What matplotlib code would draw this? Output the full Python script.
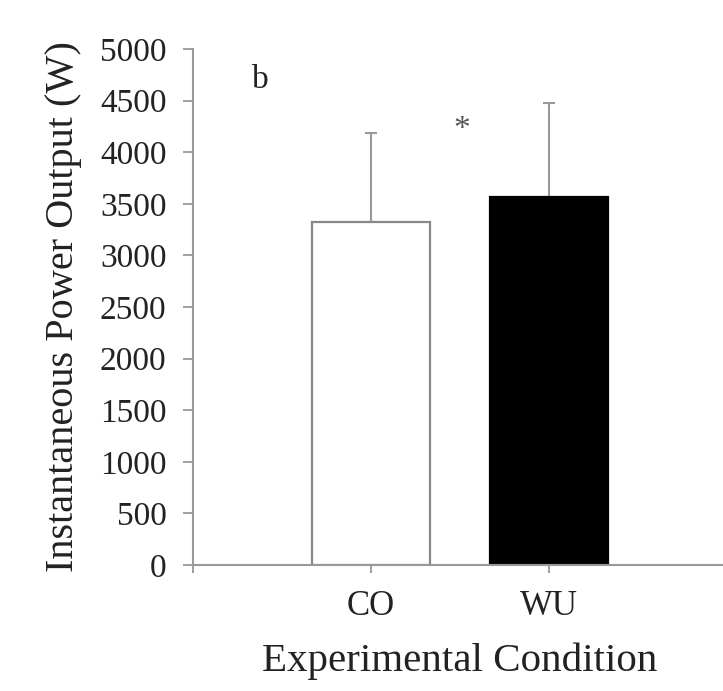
import matplotlib
matplotlib.use("Agg")
import matplotlib.pyplot as plt

categories = ["CO", "WU"]
means = [3320, 3570]
sd_upper = [870, 910]
bar_colors = ["white", "black"]
yticks = [0, 500, 1000, 1500, 2000, 2500, 3000, 3500, 4000, 4500, 5000]

plt.rcParams['font.family'] = ['Liberation Serif', 'DejaVu Serif']

fig = plt.figure(figsize=(7.23, 6.91), dpi=100)
ax = fig.add_axes([193/723, (691-565)/691, 534/723, 516/691])

x = [1, 2]
ax.bar(x, means, width=0.66, color=bar_colors, edgecolor=["#888888", "black"],
       linewidth=1.6, zorder=2)
ax.errorbar(x, means, yerr=[[0, 0], sd_upper], fmt='none', ecolor="#999999",
            elinewidth=1.5, capsize=4.5, capthick=1.5, zorder=1)

ax.set_xlim(0, 3)
ax.set_ylim(0, 5000)
ax.set_yticks(yticks)
ax.set_yticklabels([str(v) for v in yticks])
ax.set_xticks([0, 1, 2, 3])
ax.set_xticklabels(["", "CO", "WU", ""])

for s in ["top", "right"]:
    ax.spines[s].set_visible(False)
for s in ["left", "bottom"]:
    ax.spines[s].set_color("#999999")
    ax.spines[s].set_linewidth(1.5)

ax.tick_params(axis='y', direction='out', length=7, width=1.3, color="#999999",
               labelsize=24, pad=12, labelcolor="#222222")
ax.tick_params(axis='x', direction='out', length=6, width=1.3, color="#999999",
               labelsize=25, pad=12, labelcolor="#222222")

ax.set_ylabel("Instantaneous Power Output (W)", fontsize=29, color="#222222", labelpad=13)
ax.set_xlabel("Experimental Condition", fontsize=29.5, color="#222222", labelpad=14)

ax.text(1.51, 4220, "*", fontsize=24, ha='center', va='center', color="#555555")
ax.text(0.38, 4700, "b", fontsize=24, ha='center', va='center', color="#222222")

fig.savefig("out.png", dpi=100, facecolor="white")
